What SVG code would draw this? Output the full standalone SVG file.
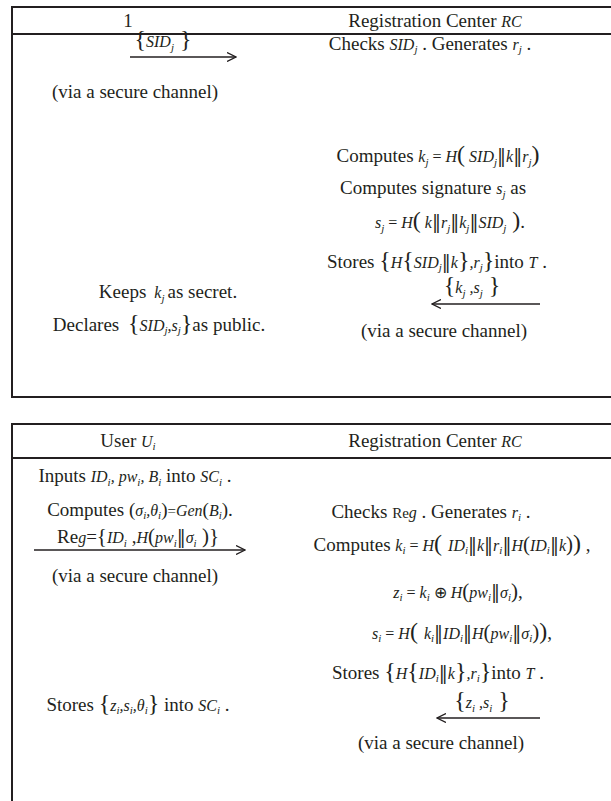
<svg xmlns="http://www.w3.org/2000/svg" width="611" height="801" viewBox="0 0 611 801">
<style>
.t{font-family:"Liberation Serif","Times New Roman",serif;font-size:19px;fill:#231f20}
.i{font-style:italic;font-size:16px}
.s{font-style:italic;font-size:11px}
.b{font-size:24px}
.d{font-family:"DejaVu Serif","DejaVu Sans",serif;font-size:18px;font-style:normal}
.frame{fill:none;stroke:#231f20;stroke-width:2}
.arr{stroke:#231f20;stroke-width:1.5;fill:none}
</style>
<defs>
<marker id="ah" viewBox="0 0 10 10" refX="9" refY="5" markerWidth="10" markerHeight="10" markerUnits="userSpaceOnUse" orient="auto">
<path d="M0,0.5 L9,5 L0,9.5" fill="none" stroke="#231f20" stroke-width="1.3"/>
</marker>
</defs>

<g id="frames">
<rect class="frame" x="12" y="7" width="620" height="390"/>
<line class="frame" x1="12" y1="34" x2="632" y2="34"/>
<rect class="frame" x="12" y="424" width="620" height="400"/>
<line class="frame" x1="12" y1="458" x2="632" y2="458"/>
</g>

<g id="connectors">
<line class="arr" x1="130" y1="57" x2="236" y2="57" marker-end="url(#ah)"/>
<line class="arr" x1="540" y1="304" x2="432" y2="304" marker-end="url(#ah)"/>
<line class="arr" x1="34" y1="550" x2="245" y2="550" marker-end="url(#ah)"/>
<line class="arr" x1="540" y1="718" x2="437" y2="718" marker-end="url(#ah)"/>
</g>

<g id="header1">
<text class="t" x="128" y="27" text-anchor="middle">1</text>
<text class="t" x="435" y="27" text-anchor="middle">Registration Center <tspan class="i">RC</tspan></text>
</g>

<g id="left1">
<text class="t" x="163" y="47" text-anchor="middle"><tspan class="b">{</tspan><tspan class="i">SID</tspan><tspan class="s" dy="4">j</tspan><tspan class="b" dy="-4"> }</tspan></text>
<text class="t" x="135" y="98" text-anchor="middle">(via a secure channel)</text>
<text class="t" x="168" y="298" text-anchor="middle">Keeps<tspan class="i" dx="8">k</tspan><tspan class="s" dy="4">j</tspan><tspan dy="-4" dx="3">as secret.</tspan></text>
<text class="t" x="159" y="331" text-anchor="middle">Declares <tspan class="b" dx="4">{</tspan><tspan class="i" font-size="13">SID</tspan><tspan class="s" dy="3" font-size="9">j</tspan><tspan class="i" dy="-3">,s</tspan><tspan class="s" dy="3" font-size="9">j</tspan><tspan class="b" dy="-3">}</tspan>as public.</text>
</g>

<g id="right1">
<text class="t" x="430" y="50" text-anchor="middle">Checks  <tspan class="i" font-size="14">SID</tspan><tspan class="s" dy="3" font-size="9">j</tspan><tspan dy="-3"> . Generates  </tspan><tspan class="i" font-size="14">r</tspan><tspan class="s" dy="3" font-size="9">j</tspan><tspan dy="-3"> .</tspan></text>
<text class="t" x="438" y="162" text-anchor="middle">Computes  <tspan class="i">k</tspan><tspan class="s" dy="4">j</tspan><tspan dy="-4" font-size="16"> = </tspan><tspan class="i">H</tspan><tspan class="b">(</tspan><tspan class="i"> SID</tspan><tspan class="s" dy="4">j</tspan><tspan class="d" dy="-4">‖</tspan><tspan class="i">k</tspan><tspan class="d">‖</tspan><tspan class="i">r</tspan><tspan class="s" dy="4">j</tspan><tspan class="b" dy="-4">)</tspan></text>
<text class="t" x="433" y="194" text-anchor="middle">Computes signature  <tspan class="i">s</tspan><tspan class="s" dy="4">j</tspan><tspan dy="-4"> as</tspan></text>
<text class="t" x="450" y="228" text-anchor="middle"><tspan class="i">s</tspan><tspan class="s" dy="4">j</tspan><tspan dy="-4" font-size="16"> = </tspan><tspan class="i">H</tspan><tspan class="b">(</tspan><tspan class="i"> k</tspan><tspan class="d">‖</tspan><tspan class="i">r</tspan><tspan class="s" dy="4">j</tspan><tspan class="d" dy="-4">‖</tspan><tspan class="i">k</tspan><tspan class="s" dy="4">j</tspan><tspan class="d" dy="-4">‖</tspan><tspan class="i">SID</tspan><tspan class="s" dy="4">j</tspan><tspan class="b" dy="-4"> )</tspan>.</text>
<text class="t" x="437" y="268" text-anchor="middle">Stores <tspan class="b">{</tspan><tspan class="i">H</tspan><tspan class="b">{</tspan><tspan class="i" font-size="14">SID</tspan><tspan class="s" dy="3" font-size="9">j</tspan><tspan class="d" dy="-3">‖</tspan><tspan class="i">k</tspan><tspan class="b">}</tspan><tspan class="i">,r</tspan><tspan class="s" dy="3" font-size="9">j</tspan><tspan class="b" dy="-3">}</tspan>into  <tspan class="i">T</tspan> .</text>
<text class="t" x="472" y="293" text-anchor="middle"><tspan class="b">{</tspan><tspan class="i">k</tspan><tspan class="s" dy="4">j</tspan><tspan class="i" dy="-4"> ,s</tspan><tspan class="s" dy="4">j</tspan><tspan class="b" dy="-4"> }</tspan></text>
<text class="t" x="444" y="337" text-anchor="middle">(via a secure channel)</text>
</g>

<g id="header2">
<text class="t" x="128" y="447" text-anchor="middle">User  <tspan class="i" font-size="14">U</tspan><tspan class="s" dy="3" font-size="9">i</tspan></text>
<text class="t" x="435" y="447" text-anchor="middle">Registration Center  <tspan class="i">RC</tspan></text>
</g>

<g id="left2">
<text class="t" x="135" y="482" text-anchor="middle">Inputs  <tspan class="i" font-size="18">ID</tspan><tspan class="s" dy="4" font-size="12">i</tspan><tspan class="i" font-size="18" dy="-4">, pw</tspan><tspan class="s" dy="4" font-size="12">i</tspan><tspan class="i" font-size="18" dy="-4">, B</tspan><tspan class="s" dy="4" font-size="12">i</tspan><tspan dy="-4"> into  </tspan><tspan class="i" font-size="18">SC</tspan><tspan class="s" dy="4" font-size="12">i</tspan><tspan dy="-4"> .</tspan></text>
<text class="t" x="140" y="516" text-anchor="middle">Computes  (<tspan class="i">σ</tspan><tspan class="s" dy="3" font-size="9">i</tspan><tspan class="i" dy="-3">,θ</tspan><tspan class="s" dy="3" font-size="9">i</tspan><tspan dy="-3">)</tspan><tspan font-size="15">=</tspan><tspan class="i" font-size="15">Gen</tspan>(<tspan class="i">B</tspan><tspan class="s" dy="3" font-size="9">i</tspan><tspan dy="-3">).</tspan></text>
<text class="t" x="138" y="543" text-anchor="middle">Re<tspan class="i">g</tspan>=<tspan font-size="21">{</tspan><tspan class="i" font-size="18">ID</tspan><tspan class="s" dy="4">i</tspan><tspan dy="-4"> ,</tspan><tspan class="i" font-size="18">H</tspan><tspan font-size="21">(</tspan><tspan class="i" font-size="18">pw</tspan><tspan class="s" dy="4">i</tspan><tspan class="d" dy="-4">‖</tspan><tspan class="i" font-size="18">σ</tspan><tspan class="s" dy="4">i</tspan><tspan font-size="21" dy="-4"> )}</tspan></text>
<text class="t" x="135" y="582" text-anchor="middle">(via a secure channel)</text>
<text class="t" x="138" y="711" text-anchor="middle">Stores <tspan class="b">{</tspan><tspan class="i" font-size="14">z</tspan><tspan class="s" dy="3" font-size="9">i</tspan><tspan class="i" dy="-3" font-size="14">,s</tspan><tspan class="s" dy="3" font-size="9">i</tspan><tspan class="i" dy="-3" font-size="14">,θ</tspan><tspan class="s" dy="3" font-size="9">i</tspan><tspan class="b" dy="-3">}</tspan> into  <tspan class="i" font-size="14">SC</tspan><tspan class="s" dy="3" font-size="9">i</tspan><tspan dy="-3"> .</tspan></text>
</g>

<g id="right2">
<text class="t" x="431" y="518" text-anchor="middle">Checks  <tspan font-size="15">Re</tspan><tspan class="i">g</tspan> . Generates  <tspan class="i" font-size="14">r</tspan><tspan class="s" dy="3" font-size="9">i</tspan><tspan dy="-3"> .</tspan></text>
<text class="t" x="452" y="551" text-anchor="middle">Computes  <tspan class="i">k</tspan><tspan class="s" dy="3" font-size="9">i</tspan><tspan dy="-3" font-size="16"> = </tspan><tspan class="i">H</tspan><tspan class="b">( </tspan><tspan class="i">ID</tspan><tspan class="s" dy="3" font-size="9">i</tspan><tspan class="d" dy="-3">‖</tspan><tspan class="i">k</tspan><tspan class="d">‖</tspan><tspan class="i">r</tspan><tspan class="s" dy="3" font-size="9">i</tspan><tspan class="d" dy="-3">‖</tspan><tspan class="i">H</tspan><tspan font-size="21">(</tspan><tspan class="i">ID</tspan><tspan class="s" dy="3" font-size="9">i</tspan><tspan class="d" dy="-3">‖</tspan><tspan class="i">k</tspan><tspan font-size="21">)</tspan><tspan class="b">)</tspan> ,</text>
<text class="t" x="458" y="598" text-anchor="middle"><tspan class="i">z</tspan><tspan class="s" dy="3" font-size="9">i</tspan><tspan dy="-3" font-size="16"> = </tspan><tspan class="i">k</tspan><tspan class="s" dy="3" font-size="9">i</tspan><tspan dy="-3" font-size="16"> ⊕ </tspan><tspan class="i">H</tspan><tspan font-size="21">(</tspan><tspan class="i">pw</tspan><tspan class="s" dy="3" font-size="9">i</tspan><tspan class="d" dy="-3">‖</tspan><tspan class="i">σ</tspan><tspan class="s" dy="3" font-size="9">i</tspan><tspan font-size="21" dy="-3">)</tspan>,</text>
<text class="t" x="462" y="639" text-anchor="middle"><tspan class="i">s</tspan><tspan class="s" dy="3" font-size="9">i</tspan><tspan dy="-3" font-size="16"> = </tspan><tspan class="i">H</tspan><tspan class="b">( </tspan><tspan class="i">k</tspan><tspan class="s" dy="3" font-size="9">i</tspan><tspan class="d" dy="-3">‖</tspan><tspan class="i">ID</tspan><tspan class="s" dy="3" font-size="9">i</tspan><tspan class="d" dy="-3">‖</tspan><tspan class="i">H</tspan><tspan font-size="21">(</tspan><tspan class="i">pw</tspan><tspan class="s" dy="3" font-size="9">i</tspan><tspan class="d" dy="-3">‖</tspan><tspan class="i">σ</tspan><tspan class="s" dy="3" font-size="9">i</tspan><tspan font-size="21" dy="-3">)</tspan><tspan class="b">)</tspan>,</text>
<text class="t" x="438" y="679" text-anchor="middle">Stores <tspan class="b">{</tspan><tspan class="i">H</tspan><tspan class="b">{</tspan><tspan class="i" font-size="14">ID</tspan><tspan class="s" dy="3" font-size="9">i</tspan><tspan class="d" dy="-3">‖</tspan><tspan class="i">k</tspan><tspan class="b">}</tspan><tspan class="i">,r</tspan><tspan class="s" dy="3" font-size="9">i</tspan><tspan class="b" dy="-3">}</tspan>into  <tspan class="i">T</tspan> .</text>
<text class="t" x="482" y="708" text-anchor="middle"><tspan class="b">{</tspan><tspan class="i">z</tspan><tspan class="s" dy="4">i</tspan><tspan class="i" dy="-4"> ,s</tspan><tspan class="s" dy="4">i</tspan><tspan class="b" dy="-4"> }</tspan></text>
<text class="t" x="441" y="749" text-anchor="middle">(via a secure channel)</text>
</g>
</svg>
